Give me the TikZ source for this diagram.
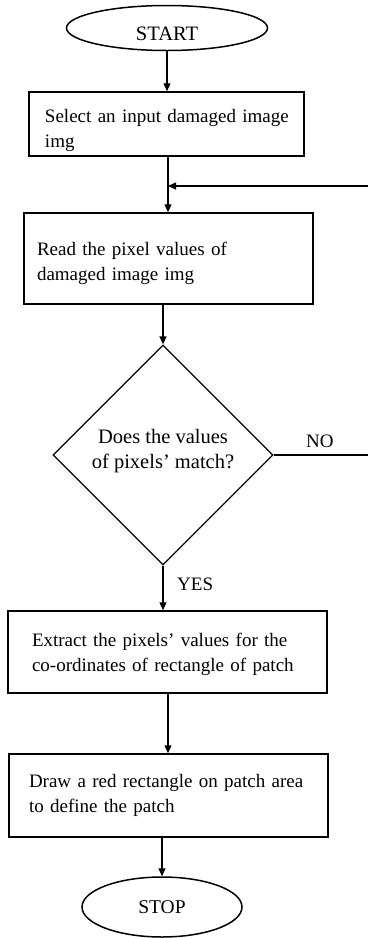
\documentclass[tikz,border=0pt]{standalone}
\usepackage{fontspec}
\setmainfont{Liberation Serif}
\usetikzlibrary{shapes.geometric,arrows.meta}
\begin{document}
\begin{tikzpicture}[x=1pt,y=-1pt,
  every node/.style={font=\fontsize{19}{25}\selectfont},
  box/.style={draw,line width=1.5pt,rectangle,align=left,inner ysep=0pt},
  term/.style={draw,line width=1.5pt,ellipse,inner sep=0pt},
  decision/.style={draw,line width=1.3pt,diamond,aspect=1,inner sep=0pt,align=center,font=\fontsize{20.5}{25}\selectfont},
  arr/.style={line width=1.3pt,-{Triangle[length=8pt,width=7pt]}},
  ln/.style={line width=1.3pt},
  lbl/.style={anchor=west,inner sep=0pt}
]
\useasboundingbox (0,0) rectangle (368,938);

\node[term,minimum width=201pt,minimum height=45pt,font=\fontsize{20.5}{25}\selectfont] (start) at (167,28) {\rule{0pt}{26pt}START};

\node[box,minimum height=64pt,inner xsep=16pt,text width=243pt] (b1) at (166.5,124)
  {\rule{0pt}{27pt}\mbox{Select an input damaged image}\\img};

\node[box,minimum height=91pt,inner xsep=13pt,text width=263pt] (b2) at (168.5,258.5)
  {\rule{0pt}{23pt}\mbox{Read the pixel values of}\\\mbox{damaged image img}};

\node[decision,minimum width=220pt,minimum height=220pt] (d) at (163,455)
  {Does the values\\of pixels’ match?\rule[-12pt]{0pt}{12pt}};

\node[box,minimum height=82pt,inner xsep=24pt,text width=271pt] (b3) at (167.5,652)
  {\rule{0pt}{19pt}\mbox{Extract the pixels’ values for the}\\\mbox{co-ordinates of rectangle of patch}};

\node[box,minimum height=83pt,inner xsep=20pt,text width=279pt] (b4) at (168.5,795.5)
  {\mbox{Draw a red rectangle on patch area}\\\mbox{to define the patch}};

\node[term,minimum width=160pt,minimum height=60pt,font=\fontsize{19.5}{25}\selectfont] (stop) at (162,907) {STOP};

\coordinate (j) at (168,186);
\coordinate (r1) at (368,186);
\coordinate (r2) at (368,455);

\draw[arr] (start.south) -- (start.south |- b1.north);
\draw[ln] (j |- b1.south) -- (j);
\draw[arr] (j) -- (j |- b2.north);
\draw[arr] (r1) -- (j);
\draw[arr] (d.north |- b2.south) -- (d.north);
\draw[ln] (d.east) -- (r2);
\node[lbl] (no) at (306,441) {NO};
\draw[arr] (d.south) -- (d.south |- b3.north);
\node[lbl] (yes) at (177,584) {YES};
\draw[arr] (j |- b3.south) -- (j |- b4.north);
\draw[arr] (stop.north |- b4.south) -- (stop.north);
\end{tikzpicture}
\end{document}
